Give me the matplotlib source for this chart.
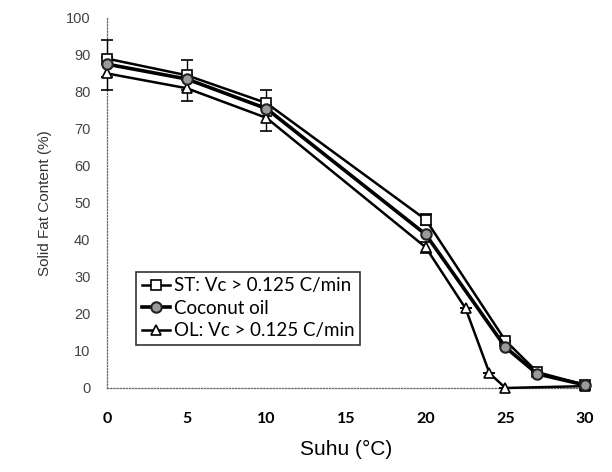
import matplotlib
matplotlib.use("Agg")
import matplotlib.pyplot as plt

# data
suhu_st = [0, 5, 10, 20, 25, 27, 30]
sfc_st = [89, 84.5, 77, 45.5, 12.8, 4.3, 0.8]
err_st = [5, 4, 3.5, 1.5, 0, 0, 0]

suhu_co = [0, 5, 10, 20, 25, 27, 30]
sfc_co = [87.5, 83.5, 75.5, 41.5, 11, 3.8, 0.8]

suhu_ol = [0, 5, 10, 20, 22.5, 24, 25, 30]
sfc_ol = [85, 81, 73, 38, 21.5, 4, 0, 0.5]
err_ol = [4.5, 3.5, 3.5, 1.5, 0, 0, 0, 0]

xticks = [0, 5, 10, 15, 20, 25, 30]
yticks = [0, 10, 20, 30, 40, 50, 60, 70, 80, 90, 100]

fig = plt.figure(figsize=(6.12, 4.72), dpi=100)
ax = fig.add_axes([0.175, 0.178, 0.781, 0.784])

st = ax.errorbar(suhu_st, sfc_st, yerr=err_st, color="black", lw=1.8, marker="s",
                 ms=7.5, mfc="white", mec="black", mew=1.2, capsize=4, elinewidth=1,
                 clip_on=False, zorder=3)
ol = ax.errorbar(suhu_ol, sfc_ol, yerr=err_ol, color="black", lw=1.8, marker="^",
                 ms=7.5, mfc="white", mec="black", mew=1.2, capsize=4, elinewidth=1,
                 clip_on=False, zorder=3)
co, = ax.plot(suhu_co, sfc_co, color="black", lw=2.6, marker="o", ms=7.5,
              mfc="#9a9a9a", mec="#222222", mew=1.5, clip_on=False, zorder=4)

ax.set_xlim(0, 30)
ax.set_ylim(0, 100)
ax.set_xticks(xticks)
ax.set_yticks(yticks)

for s in ["top", "right"]:
    ax.spines[s].set_visible(False)
for s in ["left", "bottom"]:
    ax.spines[s].set_linestyle((0, (1, 1.5)))
    ax.spines[s].set_linewidth(0.9)
    ax.spines[s].set_color("#666666")

ax.tick_params(length=0)
ax.tick_params(axis="y", pad=12, labelsize=10.5, labelcolor="#444444")
ax.tick_params(axis="x", pad=17, labelsize=11.5)
for lab in ax.get_yticklabels():
    lab.set_fontfamily("Liberation Sans")
for lab in ax.get_xticklabels():
    lab.set_fontfamily("Lato")
    lab.set_fontweight("bold")

ax.set_xlabel("Suhu (°C)", fontsize=15, family="Liberation Sans", labelpad=10)
ax.set_ylabel("Solid Fat Content (%)", fontsize=11, family="Liberation Sans",
              color="#333333", labelpad=10)

leg = ax.legend([st[0], co, ol[0]],
                ["ST: Vc > 0.125 C/min", "Coconut oil", "OL: Vc > 0.125 C/min"],
                loc="lower left", bbox_to_anchor=(0.061, 0.116), borderaxespad=0,
                prop={"family": "Lato", "size": 13.5}, frameon=True,
                fancybox=False, edgecolor="black", handlelength=1.5,
                handletextpad=0.2, borderpad=0.3, labelspacing=0.3)
leg.get_frame().set_linewidth(1.2)

fig.savefig("out.png", dpi=100)
